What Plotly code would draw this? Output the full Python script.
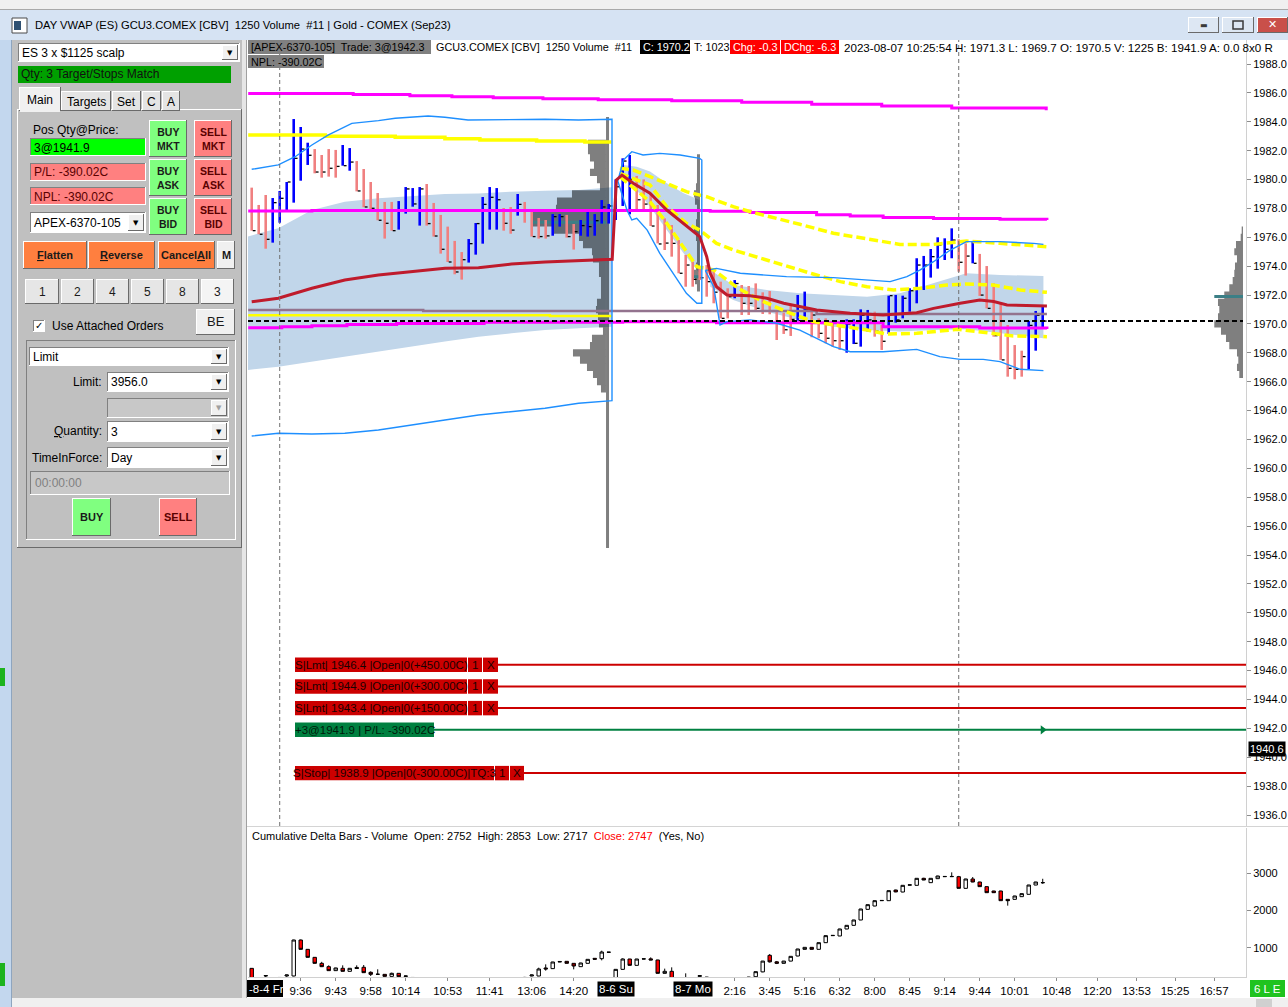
import plotly.graph_objects as go

W, H = 1288, 1007
FONT = "Liberation Sans, Arial, sans-serif"
SP2 = "\u00a0 "   # a double space that survives svg whitespace collapsing

# ---------------- price bars (1250 volume bars, x = bar number) ----------------
bar_high = [
    1979.44, 1978.24, 1978.93, 1978.72, 1979.21, 1979.83, 1984.19, 1983.64, 1982.55, 1982.11,
    1981.70, 1982.11, 1982.05, 1982.39, 1982.18, 1981.28, 1980.73, 1979.83, 1979.07, 1978.45,
    1978.45, 1978.51, 1979.48, 1979.41, 1979.48, 1979.69, 1978.38, 1977.55, 1976.74, 1975.75,
    1974.98, 1975.88, 1976.99, 1978.79, 1979.48, 1979.41, 1978.03, 1978.10, 1979.00, 1978.45,
    1977.82, 1977.34, 1977.20, 1977.61, 1977.61, 1977.55, 1976.92, 1977.20, 1977.82, 1977.61,
    1978.58, 1978.31, 1980.01, 1981.47, 1981.70, 1980.25, 1980.01, 1979.05, 1978.24, 1977.31,
    1976.85, 1975.81, 1974.78, 1974.31, 1973.97, 1974.08, 1973.74, 1972.93, 1972.47, 1973.04,
    1972.70, 1972.63, 1972.81, 1972.19, 1972.28, 1970.97, 1970.78, 1971.31, 1972.01, 1972.24,
    1971.01, 1970.39, 1970.39, 1970.16, 1969.93, 1970.32, 1970.32, 1971.01, 1970.97, 1970.85,
    1969.93, 1971.96, 1972.01, 1971.96, 1972.47, 1974.55, 1974.71, 1975.19, 1976.00, 1975.93,
    1976.62, 1975.86, 1975.58, 1975.75, 1974.85, 1974.01, 1972.81, 1971.43, 1969.93, 1968.54,
    1968.15, 1970.21, 1970.90, 1971.30,
]
bar_low = [
    1976.46, 1976.21, 1975.21, 1975.63, 1977.01, 1977.78, 1978.40, 1979.92, 1981.01, 1980.43,
    1980.13, 1980.20, 1980.13, 1980.96, 1980.61, 1979.18, 1978.08, 1977.89, 1977.18, 1975.91,
    1976.46, 1976.53, 1977.64, 1978.12, 1976.81, 1976.81, 1976.05, 1974.87, 1974.29, 1973.44,
    1973.07, 1974.25, 1974.80, 1975.56, 1976.53, 1976.53, 1976.46, 1976.25, 1977.50, 1977.01,
    1976.05, 1975.91, 1975.91, 1976.11, 1976.74, 1975.98, 1975.15, 1976.11, 1976.05, 1976.11,
    1976.95, 1976.95, 1977.20, 1978.17, 1977.59, 1977.82, 1977.82, 1976.78, 1975.58, 1975.12,
    1974.66, 1973.51, 1972.58, 1972.58, 1973.04, 1971.89, 1971.43, 1970.39, 1970.39, 1971.78,
    1970.62, 1970.62, 1970.97, 1970.69, 1970.67, 1968.89, 1969.31, 1969.17, 1970.23, 1970.51,
    1969.08, 1969.01, 1968.66, 1968.43, 1968.20, 1968.01, 1968.61, 1968.43, 1969.47, 1969.12,
    1968.20, 1969.31, 1970.09, 1970.39, 1970.85, 1971.43, 1972.35, 1973.21, 1973.83, 1974.43,
    1974.55, 1973.62, 1973.35, 1974.20, 1971.94, 1971.08, 1969.12, 1967.51, 1966.35, 1966.17,
    1966.35, 1966.86, 1968.15, 1969.70,
]
bar_close = [
    1976.46, 1976.21, 1975.86, 1978.40, 1978.70, 1979.83, 1981.47, 1982.11, 1981.68, 1980.52,
    1980.52, 1980.78, 1980.91, 1980.96, 1981.21, 1979.21, 1978.10, 1978.01, 1977.18, 1976.97,
    1976.46, 1977.80, 1979.35, 1978.31, 1979.35, 1976.95, 1976.09, 1975.17, 1974.29, 1973.60,
    1974.45, 1975.56, 1976.95, 1978.28, 1978.77, 1978.60, 1976.97, 1976.50, 1978.28, 1977.85,
    1976.05, 1976.05, 1976.10, 1977.43, 1977.43, 1976.05, 1976.39, 1976.81, 1976.74, 1977.15,
    1978.10, 1978.17, 1979.50, 1981.28, 1980.01, 1978.60, 1978.30, 1976.78, 1975.54, 1975.60,
    1975.58, 1973.51, 1974.08, 1973.09, 1973.20, 1972.93, 1972.20, 1970.39, 1971.89, 1972.80,
    1971.43, 1971.43, 1971.08, 1970.90, 1970.90, 1970.16, 1969.60, 1970.32, 1970.23, 1970.97,
    1970.62, 1969.35, 1969.01, 1968.84, 1968.84, 1970.00, 1968.66, 1970.60, 1970.28, 1969.50,
    1968.80, 1971.96, 1970.28, 1971.78, 1972.30, 1974.08, 1974.08, 1974.66, 1975.47, 1975.17,
    1975.81, 1974.27, 1974.70, 1974.20, 1972.00, 1971.08, 1969.19, 1967.51, 1966.93, 1966.86,
    1967.74, 1969.90, 1970.60, 1970.20,
]
# bar colour as drawn: u = blue, d = pink
bar_dir = ("ddd" "uuuuuu" "dddd" "uu" "dddddd" "uuuu" "dddddd" "uuuuu" "dd" "u" "dddd"
           "uu" "dd" "uuuuuuuu" "dddddddddddddd" "u" "dddddddd" "uu" "ddddd" "uuuu" "dd"
           "uuuuuuuuuu" "dd" "u" "ddddddd" "uuu")

# ---------------- indicator lines (x = bar number, y = price) ----------------
mag_hi_x = [-0.5, 14.5, 22.6, 28.6, 34.5, 41.6, 49.5, 60, 70, 80, 90, 100, 113.5]
mag_hi_y = [1985.95, 1985.88, 1985.81, 1985.74, 1985.67, 1985.60, 1985.53, 1985.45, 1985.35,
            1985.22, 1985.10, 1984.95, 1984.80]
mag_mid_x = [-0.5, 8.6, 65.5, 71.2, 80.7, 85.5, 90.2, 97.4, 106.9, 113.6]
mag_mid_y = [1977.82, 1977.86, 1977.80, 1977.72, 1977.56, 1977.48, 1977.38, 1977.31, 1977.25, 1977.20]
mag_lo_x = [-0.5, 4.3, 8.6, 13.6, 20.7, 33.2, 53.0, 66.4, 90.2, 104.0, 113.6]
mag_lo_y = [1969.74, 1969.81, 1969.88, 1969.97, 1970.04, 1970.11, 1970.16, 1970.09, 1969.80,
            1969.72, 1969.65]

yel_s1_hi_x = [-0.5, 10.5, 20.5, 27.6, 32.6, 40.7, 47.6, 51.4]
yel_s1_hi_y = [1983.08, 1983.00, 1982.92, 1982.83, 1982.74, 1982.67, 1982.60, 1982.60]
yel_s1_lo_x = [-0.5, 42.6, 51.4]
yel_s1_lo_y = [1970.60, 1970.55, 1970.55]

yel_a_x = [52.6, 54.5, 56.9, 59.3, 62.1, 65.0, 68.8, 71.7, 74.5, 78.3, 83.1, 87.9, 92.6, 97.4,
           102.1, 106.9, 113.6]
yel_a_y = [1980.78, 1980.66, 1980.20, 1979.74, 1979.16, 1978.81, 1978.12, 1977.71, 1977.38,
           1976.90, 1976.28, 1975.86, 1975.51, 1975.51, 1975.74, 1975.58, 1975.35]
yel_b_x = [52.6, 56.9, 59.3, 62.1, 64.0, 66.4, 68.8, 72.6, 76.4, 80.2, 84.1, 87.9, 91.7, 95.5,
           99.3, 102.1, 105.9, 109.8, 113.6]
yel_b_y = [1980.43, 1979.62, 1978.12, 1976.97, 1976.51, 1975.58, 1975.12, 1974.55, 1973.97,
           1973.46, 1972.93, 1972.58, 1972.35, 1972.47, 1972.70, 1972.77, 1972.70, 1972.35, 1972.19]
yel_c_x = [52.6, 56.9, 59.3, 61.7, 63.6, 66.0, 69.5, 72.6, 76.4, 80.2, 87.9, 90.6, 95.0, 100.9,
           108.8, 113.6]
yel_c_y = [1980.20, 1978.47, 1976.97, 1975.35, 1973.97, 1973.74, 1972.47, 1971.66, 1970.85,
           1970.16, 1969.58, 1969.31, 1969.35, 1969.63, 1969.17, 1969.12]

vwap_x = [0, 3.8, 8.6, 13.3, 18.1, 22.9, 27.6, 32.4, 37.1, 41.9, 46.7, 51.2, 51.5, 52.1, 52.9,
          54.5, 56.9, 59.3, 61.7, 64.0, 65.0, 65.5, 66.4, 67.9, 71.2, 73.6, 76.0, 80.7, 85.5,
          90.2, 95.0, 97.4, 101.2, 104.0, 106.0, 107.9, 113.6]
vwap_y = [1971.54, 1971.78, 1972.47, 1973.04, 1973.39, 1973.62, 1973.85, 1973.90, 1974.15,
          1974.29, 1974.38, 1974.48, 1974.48, 1979.97, 1980.31, 1979.74, 1979.05, 1977.89,
          1976.97, 1976.05, 1974.66, 1973.51, 1972.58, 1972.01, 1971.96, 1971.78, 1971.43,
          1970.97, 1970.74, 1970.62, 1970.78, 1971.08, 1971.43, 1971.66, 1971.55, 1971.31, 1971.24]

# std-dev bands, one pair per session
s1_up_x = [0, 3.8, 6.2, 8.6, 10.9, 14.3, 18.1, 20.5, 25.2, 27.6, 30.9, 37.1, 41.9, 46.7, 51.47]
s1_up_y = [1980.71, 1981.01, 1981.58, 1982.39, 1983.08, 1983.89, 1984.08, 1984.24, 1984.40,
           1984.31, 1984.12, 1984.17, 1984.17, 1984.12, 1984.17]
s1_lo_x = [0, 3.8, 8.6, 13.3, 18.1, 22.9, 27.6, 32.4, 37.1, 41.9, 46.7, 51.47]
s1_lo_y = [1962.24, 1962.43, 1962.38, 1962.43, 1962.66, 1963.01, 1963.35, 1963.70, 1963.93,
           1964.16, 1964.51, 1964.69]
s2_up_x = [52.3, 53.1, 54.3, 55.9, 58.3, 61.2, 64.0, 64.3]
s2_up_y = [1979.90, 1981.35, 1981.93, 1981.70, 1981.81, 1981.70, 1981.47, 1981.35]
s2_lo_x = [52.3, 53.6, 54.3, 55.0, 56.5, 58.3, 60.2, 62.1, 63.6, 64.3]
s2_lo_y = [1979.90, 1977.89, 1977.20, 1977.31, 1976.50, 1974.89, 1973.50, 1972.12, 1971.43, 1971.43]
s3_up_x = [64.8, 66.4, 69.8, 73.6, 76.4, 83.1, 87.9, 91.2, 93.6, 95.5, 97.4, 99.8, 102.1, 106.9,
           111.7, 113.1]
s3_up_y = [1973.70, 1973.85, 1973.51, 1973.35, 1973.28, 1973.21, 1973.04, 1972.93, 1973.28,
           1973.74, 1974.31, 1975.12, 1975.70, 1975.70, 1975.58, 1975.51]
s3_lo_x = [64.8, 66.0, 66.9, 67.9, 71.2, 75.0, 78.3, 80.7, 83.1, 85.5, 90.2, 95.0, 98.3, 101.2,
           104.5, 106.9, 109.8, 113.1]
s3_lo_y = [1973.70, 1972.58, 1969.93, 1970.16, 1970.28, 1970.05, 1969.58, 1969.01, 1968.43,
           1968.08, 1968.08, 1968.24, 1967.74, 1967.55, 1967.55, 1967.39, 1966.86, 1966.77]

# shaded inner band, one per session
f1_x = [-0.6, 3.8, 8.6, 13.3, 18.1, 22.9, 27.6, 32.4, 37.1, 41.9, 46.7, 51.47]
f1_up = [1976.05, 1976.62, 1977.89, 1978.47, 1978.70, 1978.86, 1979.00, 1979.04, 1979.16,
         1979.23, 1979.28, 1979.46]
f1_lo = [1966.81, 1967.04, 1967.39, 1967.74, 1968.08, 1968.43, 1968.78, 1969.12, 1969.35,
         1969.58, 1969.70, 1969.81]
f2_x = [52.3, 53.1, 55.0, 56.9, 59.3, 61.7, 64.0]
f2_up = [1980.00, 1981.01, 1980.89, 1980.55, 1979.74, 1979.05, 1978.58]
f2_lo = [1980.00, 1980.20, 1979.28, 1978.12, 1976.51, 1974.89, 1973.51]
f3_up_x = [65.5, 68.8, 73.6, 78.3, 83.1, 87.9, 92.6, 95.0, 97.4, 102.1, 106.9, 113.1]
f3_up = [1973.74, 1972.70, 1972.35, 1972.12, 1972.01, 1971.89, 1972.12, 1972.47, 1972.81,
         1973.51, 1973.39, 1973.32]
f3_lo_x = [65.5, 68.8, 73.6, 78.3, 83.1, 87.9, 92.6, 97.4, 102.1, 106.9, 113.1]
f3_lo = [1972.58, 1971.66, 1970.85, 1970.28, 1969.81, 1969.58, 1969.47, 1969.58, 1969.63,
         1969.35, 1969.01]

mauve_x = [-0.5, 24.5, 80.7, 113.6]
mauve_y = [1970.97, 1970.90, 1970.69, 1970.69]

# volume profiles: price levels (step 0.5) and volume
vp1_levels = [1982.5 - 0.5 * k for k in range(35)]
vp1_vol = [18, 18, 16, 12, 16, 9, 6, 34, 49, 50, 74, 73, 53, 27, 23, 14, 13, 7, 7, 5, 5, 5, 9,
           10, 8, 7, 3, 14, 16, 33, 26, 19, 13, 9, 5]
vp1_poc = 1977.04
vp2_levels = [1981.5 - 0.5 * k for k in range(19)]
vp2_vol = [3, 3, 3, 3, 4, 6, 5, 3, 3, 4, 6, 4, 3, 3, 3, 4, 6, 5, 3]
vp2_poc = 1973.27
vp3_levels = [1976.5 - 0.5 * k for k in range(21)]
vp3_vol = [1.3, 2.3, 7, 8.7, 6, 8, 8.7, 10.3, 13.7, 18.7, 25, 23.7, 25, 28.7, 22, 17, 13.7, 6,
           4.7, 6, 3.7]
vp3_poc = 1971.9
session_line_top, session_line_bottom = 1984.33, 1954.49

last_price = 1970.2
cursor_price = 1940.6
order_prices = [1946.4, 1944.9, 1943.4, 1938.9]
order_types = ["Lmt", "Lmt", "Lmt", "Stop"]
order_pnl = [450.00, 300.00, 150.00, -300.00]
position_price = 1941.9
position_qty = 3
position_pl = -390.02

# ---------------- cumulative delta bars ----------------
cd_open = [445, 130, 240, 180, 170, 240, 240, 1207, 956, 741,
           580, 490, 383, 446, 365, 469, 474, 338, 284, 284,
           230, 311, 230, 200, 160, 130, 90, 60, 40, 70,
           50, 100, 140, 120, 170, 190, 150, 110, 160, 190,
           240, 239, 455, 437, 630, 634, 580, 490, 580, 714,
           705, 876, 150, 418, 696, 526, 696, 700, 670, 311,
           365, 150, 150, 160, 230, 210, 160, 110, 60, 80,
           130, 160, 220, 350, 795, 620, 580, 640, 777, 956,
           1010, 956, 1135, 1324, 1315, 1503, 1601, 1745, 2031, 2121,
           2264, 2264, 2550, 2497, 2680, 2677, 2865, 2748, 2856, 2909,
           2909, 2909, 2596, 2847, 2766, 2641, 2524, 2524, 2300, 2300,
           2372, 2435, 2685, 2752]
cd_high = [450, 160, 258, 200, 210, 275, 1215, 1220, 962, 748,
           620, 526, 462, 526, 452, 526, 535, 365, 419, 290,
           330, 315, 250, 210, 190, 150, 120, 90, 80, 100,
           110, 150, 170, 180, 200, 210, 160, 170, 200, 215,
           275, 463, 553, 620, 635, 640, 585, 595, 690, 720,
           920, 882, 420, 714, 700, 700, 705, 740, 675, 437,
           472, 170, 311, 180, 262, 215, 180, 130, 90, 140,
           170, 215, 360, 645, 831, 643, 645, 775, 970, 1015,
           1015, 1140, 1330, 1335, 1510, 1605, 1750, 2045, 2162, 2270,
           2275, 2540, 2560, 2685, 2695, 2870, 2880, 2870, 2935, 2925,
           3026, 2930, 2852, 2900, 2772, 2647, 2530, 2530, 2305, 2395,
           2458, 2690, 2771, 2853]
cd_low = [120, 100, 190, 150, 150, 215, 230, 950, 735, 575,
          480, 378, 375, 360, 360, 430, 325, 239, 280, 225,
          225, 200, 200, 150, 120, 80, 40, 20, 10, 30,
          40, 90, 100, 110, 150, 140, 100, 100, 150, 170,
          230, 235, 383, 430, 612, 575, 418, 485, 575, 685,
          660, 874, 140, 410, 520, 520, 690, 665, 305, 305,
          120, 100, 120, 120, 220, 150, 100, 40, 20, 70,
          110, 150, 200, 340, 600, 560, 575, 635, 770, 950,
          950, 950, 1130, 1318, 1310, 1498, 1595, 1740, 2025, 2115,
          2258, 2258, 2490, 2490, 2675, 2670, 2815, 2740, 2850, 2900,
          2900, 2590, 2590, 2760, 2635, 2474, 2474, 2258, 2130, 2295,
          2367, 2430, 2680, 2717]
cd_close = [130, 140, 250, 170, 200, 266, 1207, 956, 741, 580,
            490, 383, 455, 365, 446, 440, 329, 284, 286, 230,
            311, 221, 239, 160, 130, 90, 60, 40, 70, 50,
            100, 140, 120, 170, 190, 150, 110, 160, 190, 200,
            266, 428, 430, 616, 620, 580, 508, 589, 687, 690,
            884, 880, 418, 696, 526, 696, 700, 670, 311, 365,
            150, 120, 160, 140, 248, 160, 110, 60, 80, 130,
            160, 210, 356, 640, 620, 580, 640, 768, 965, 1010,
            956, 1135, 1324, 1330, 1503, 1601, 1745, 2040, 2157, 2264,
            2270, 2533, 2500, 2677, 2690, 2865, 2820, 2865, 2927, 2915,
            2915, 2596, 2847, 2766, 2641, 2479, 2479, 2264, 2264, 2390,
            2453, 2685, 2766, 2747]

# ---------------- time axis ----------------
time_ticks = [7, 12, 17, 22, 28, 34, 40, 46, 69, 74, 79, 84, 89, 94, 99, 104, 109, 115,
              120.8, 126.4, 131.9, 137.5]
time_labels = ["9:36", "9:43", "9:58", "10:14", "10:53", "11:41", "13:06", "14:20", "2:16",
               "3:45", "5:16", "6:32", "8:00", "8:45", "9:14", "9:44", "10:01", "10:48",
               "12:20", "13:53", "15:25", "16:57"]
date_ticks = [52, 63]
date_labels = ["8-6 Su", "8-7 Mo"]
day_marks = [4, 101]

# ---------------- pixel layout of the window ----------------
X0, X1 = 248, 1246          # chart plot area
MAIN_TOP, MAIN_BOT = 40, 826
LOW_TOP, LOW_BOT = 828, 977
PRICE_RANGE = [1935.238, 1989.662]
DELTA_RANGE = [212.4, 4217.7]
BAR_RANGE = [-0.53, 142.04]


def px(x):
    return x / W


def py(y):
    return 1 - y / H


shapes, annotations = [], []


def box(x0, y0, x1, y1, fill, edge=None, width=1):
    shapes.append(dict(type="rect", xref="paper", yref="paper", layer="above",
                       x0=px(x0), x1=px(x1), y0=py(y1), y1=py(y0), fillcolor=fill,
                       line=dict(color=edge if edge else fill, width=width if edge else 0)))


def bevel(x0, y0, x1, y1, fill, raised=True):
    lt, rb = ("#ffffff", "#6a6a6a") if raised else ("#808080", "#ffffff")
    box(x0, y0, x1, y1, rb)
    box(x0, y0, x1 - 1, y1 - 1, lt)
    box(x0 + 1, y0 + 1, x1 - 1, y1 - 1, fill)


def label(x, y, s, size=11, color="black", anchor="left", family=FONT):
    annotations.append(dict(xref="paper", yref="paper", x=px(x), y=py(y),
                            text=s.replace("  ", SP2), showarrow=False, xanchor=anchor,
                            yanchor="middle", font=dict(size=size, color=color, family=family)))


def combo(x0, y0, x1, y1, s, fill="white", arrow="#000000"):
    bevel(x0, y0, x1, y1, fill, raised=False)
    bevel(x1 - 18, y0 + 2, x1 - 2, y1 - 2, "#f0f0f0")
    label(x1 - 10, (y0 + y1) / 2, "▼", size=7, color=arrow, anchor="center",
          family="DejaVu Sans")
    if s:
        label(x0 + 2, (y0 + y1) / 2 + 0.5, s, size=12)


def button(x0, y0, x1, y1, fill, s, color="#1a1a1a", size=11, bold=True):
    bevel(x0, y0, x1, y1, fill)
    txt = "<b>%s</b>" % s if bold else s
    label((x0 + x1) / 2, (y0 + y1) / 2, txt, size=size, color=color, anchor="center")


fig = go.Figure()

# ---------------- main price panel ----------------
def poly(xu, yu, xl, yl, color):
    fig.add_trace(go.Scatter(x=list(xu) + list(xl)[::-1], y=list(yu) + list(yl)[::-1],
                             fill="toself", fillcolor=color, mode="lines",
                             line=dict(width=0), hoverinfo="skip"))


band_fill = "#c1d6ea"
poly(f1_x, f1_up, f1_x, f1_lo, band_fill)
poly(f2_x, f2_up, f2_x, f2_lo, band_fill)
poly(f3_up_x, f3_up, f3_lo_x, f3_lo, band_fill)


def profile(levels, vols, right, poc):
    half = 0.25
    xs, ys = [right], [levels[0] + half]
    for lv, v in zip(levels, vols):
        w = v / 7.0
        xs += [right - w, right - w]
        ys += [lv + half, lv - half]
    xs.append(right)
    ys.append(levels[-1] - half)
    fig.add_trace(go.Scatter(x=xs, y=ys, fill="toself", fillcolor="rgba(0,0,0,0.5)",
                             mode="lines", line=dict(width=0), hoverinfo="skip"))
    fig.add_trace(go.Scatter(x=[right - max(vols) / 7.0, right], y=[poc, poc], mode="lines",
                             line=dict(color="#3b7f86", width=3), hoverinfo="skip"))


profile(vp1_levels, vp1_vol, 50.61, vp1_poc)
profile(vp2_levels, vp2_vol, 64.04, vp2_poc)
profile(vp3_levels, vp3_vol, 141.61, vp3_poc)
fig.add_trace(go.Scatter(x=[50.83, 50.83], y=[session_line_top, session_line_bottom],
                         mode="lines", line=dict(color="rgba(0,0,0,0.5)", width=3)))

# OHLC-style bars (high-low stroke + close tick)
for d, col in (("u", "#0000ff"), ("d", "#f08080")):
    xs, ys = [], []
    for i, c in enumerate(bar_dir):
        if c == d:
            xs += [i, i, None]
            ys += [bar_low[i], bar_high[i], None]
    fig.add_trace(go.Scatter(x=xs, y=ys, mode="lines", line=dict(color=col, width=2.6),
                             hoverinfo="skip"))
tx, ty = [], []
for i, c in enumerate(bar_close):
    tx += [i + 0.15, i + 0.55, None]
    ty += [c, c, None]
fig.add_trace(go.Scatter(x=tx, y=ty, mode="lines", line=dict(color="black", width=1.3),
                         hoverinfo="skip"))

fig.add_trace(go.Scatter(x=mauve_x, y=mauve_y, mode="lines", line_shape="hv",
                         line=dict(color="#93738e", width=2.5)))
for xs, ys in ((mag_hi_x, mag_hi_y), (mag_mid_x, mag_mid_y), (mag_lo_x, mag_lo_y)):
    fig.add_trace(go.Scatter(x=xs, y=ys, mode="lines", line_shape="hv",
                             line=dict(color="#ff00ff", width=3)))
fig.add_trace(go.Scatter(x=yel_s1_hi_x, y=yel_s1_hi_y, mode="lines", line_shape="hv",
                         line=dict(color="#ffff00", width=3.5)))
fig.add_trace(go.Scatter(x=yel_s1_lo_x, y=yel_s1_lo_y, mode="lines", line_shape="hv",
                         line=dict(color="#ffff00", width=2.5)))
for xs, ys in ((yel_a_x, yel_a_y), (yel_b_x, yel_b_y), (yel_c_x, yel_c_y)):
    fig.add_trace(go.Scatter(x=xs, y=ys, mode="lines",
                             line=dict(color="#ffff00", width=3.5, dash="9px,4px")))

# bands: session 1 and 2 close into a loop at their end, session 3 stays open
for ux, uy, lx, ly, closed in ((s1_up_x, s1_up_y, s1_lo_x, s1_lo_y, True),
                               (s2_up_x, s2_up_y, s2_lo_x, s2_lo_y, True),
                               (s3_up_x, s3_up_y, s3_lo_x, s3_lo_y, False)):
    if closed:
        fig.add_trace(go.Scatter(x=ux + lx[::-1], y=uy + ly[::-1], mode="lines",
                                 line=dict(color="#1e8fff", width=1.4)))
    else:
        fig.add_trace(go.Scatter(x=ux, y=uy, mode="lines", line=dict(color="#1e8fff", width=1.4)))
        fig.add_trace(go.Scatter(x=lx, y=ly, mode="lines", line=dict(color="#1e8fff", width=1.4)))

fig.add_trace(go.Scatter(x=vwap_x, y=vwap_y, mode="lines",
                         line=dict(color="#bf1b2c", width=3)))
fig.add_trace(go.Scatter(x=[len(bar_close) - 1], y=[position_price], mode="markers",
                         marker=dict(symbol="triangle-right", size=8, color="#008040")))

# ---------------- cumulative delta panel ----------------
fig.add_trace(go.Candlestick(
    x=list(range(len(cd_open))), open=cd_open, high=cd_high, low=cd_low, close=cd_close,
    xaxis="x2", yaxis="y2", whiskerwidth=0,
    increasing=dict(line=dict(color="black", width=1), fillcolor="white"),
    decreasing=dict(line=dict(color="black", width=1), fillcolor="#ff0000")))

# ---------------- chart decorations ----------------
for b in day_marks:
    shapes.append(dict(type="line", xref="x", yref="paper", x0=b, x1=b, y0=py(MAIN_BOT),
                       y1=py(MAIN_TOP), line=dict(color="#707070", width=1, dash="4px,3px")))
shapes.append(dict(type="line", xref="paper", yref="y", x0=px(X0), x1=px(1243), y0=last_price,
                   y1=last_price, layer="above",
                   line=dict(color="black", width=2, dash="5px,3px")))

# order lines with their tags
row_h = 0.5
for p, t, pnl in zip(order_prices, order_types, order_pnl):
    main_txt = "S|%s| %.1f |Open|0(%+.2fC)" % (t, p, pnl)
    if t == "Stop":
        main_txt += "|TQ:%d" % position_qty
        segs = [(295, 494), (495, 509), (510, 524)]
    else:
        segs = [(295, 467), (468, 482), (483, 498)]
    shapes.append(dict(type="line", xref="paper", yref="y", x0=px(segs[-1][1]), x1=px(X1),
                       y0=p, y1=p, layer="above", line=dict(color="#cc0000", width=2)))
    for (a, b), s in zip(segs, [main_txt, "1", "X"]):
        shapes.append(dict(type="rect", xref="paper", yref="y", x0=px(a), x1=px(b),
                           y0=p - row_h, y1=p + row_h, fillcolor="#cc0000", layer="above",
                           line=dict(width=0)))
        annotations.append(dict(xref="paper", yref="y", x=px((a + b) / 2), y=p, text=s,
                                showarrow=False, xanchor="center", yanchor="middle",
                                font=dict(size=11.5, color="#1a0000", family=FONT)))
pos_txt = "+%d@%.1f | P/L: %.2fC" % (position_qty, position_price, position_pl)
shapes.append(dict(type="line", xref="paper", yref="y", x0=px(434), x1=px(X1),
                   y0=position_price, y1=position_price, layer="above",
                   line=dict(color="#008040", width=2)))
shapes.append(dict(type="rect", xref="paper", yref="y", x0=px(295), x1=px(434),
                   y0=position_price - row_h, y1=position_price + row_h, fillcolor="#008040",
                   layer="above", line=dict(width=0)))
annotations.append(dict(xref="paper", yref="y", x=px(364.5), y=position_price, text=pos_txt,
                        showarrow=False, xanchor="center", yanchor="middle",
                        font=dict(size=11.5, color="#001a0a", family=FONT)))
annotations.append(dict(xref="paper", yref="y", x=px(1248), y=cursor_price,
                        text="%.1f" % cursor_price, showarrow=False, xanchor="left",
                        yanchor="middle", bgcolor="black", borderpad=1,
                        font=dict(size=11, color="white", family=FONT)))

# chart header lines
hdr = [
    (248, 431, "[APEX-6370-105]  Trade: 3@1942.3", "#808080", "black", 10.8),
    (433, None, "GCU3.COMEX [CBV]  1250 Volume  #11", None, "black", 10.8),
    (640, 690, "C: %.1f" % bar_close[-1], "black", "white", 10.8),
    (692, None, "T: 1023", None, "black", 10.8),
    (730, 780, "Chg: -0.3", "#ff0000", "white", 10.8),
    (781, 839, "DChg: -6.3", "#ff0000", "white", 10.8),
    (841, None, "2023-08-07 10:25:54 H: %.1f L: %.1f O: 1970.5 V: 1225 B: 1941.9 A: 0.0 8x0 R"
     % (bar_high[-1], bar_low[-1]), None, "black", 11.6),
]
for a, b, s, bg, fg, fs in hdr:
    if bg:
        box(a, 40, b, 54, bg)
    label(a + 0.5, 47.5, s, size=fs, color=fg)
box(248, 55, 324, 68, "#808080")
label(248.5, 61.5, "NPL: %.2fC" % position_pl, size=10.8)

# delta panel caption
label(250, 836, "Cumulative Delta Bars - Volume  Open: %d  High: %d  Low: %d  "
      "<span style='color:#ff0000'>Close: %d</span>  (Yes, No)"
      % (cd_open[-1], cd_high[-1], cd_low[-1], cd_close[-1]), size=11)

# date labels on time axis
box(246, 980, 283, 997, "black")
label(247, 988.5, "-8-4 Fr", size=11.5, color="white")
for b, s in zip(date_ticks, date_labels):
    annotations.append(dict(xref="x2", yref="paper", x=b, y=py(988.5), text=s, showarrow=False,
                            xanchor="center", yanchor="middle", bgcolor="black", borderpad=1,
                            font=dict(size=11.5, color="white", family=FONT)))
box(1250, 980, 1285, 997, "#1fc31f")
label(1267.5, 988.5, "6 L E", size=11.5, color="white", anchor="center")

# frames and separators of the chart
box(242, 40, 246, 998, "#e6e6e6")
box(246, 40, 247, 998, "#a0a0a0")
box(247, LOW_TOP - 2, 1288, LOW_TOP - 1, "#d4d4d4")
box(12, 998, 1288, 1007, "#f0f0f0")
box(1256, 999, 1272, 1007, "#d0d0d0")

# ---------------- window chrome ----------------
box(0, 0, W, 9, "#f0f0f0")
box(0, 9, W, 10, "#a9a9a9")
box(0, 10, W, 40, "#d6e3f3")
box(0, 40, 12, H, "#c3d7ee")
box(11, 40, 12, H, "#8ea5bf")
box(0, 668, 5, 686, "#1db31d")
box(0, 963, 5, 986, "#1db31d")
box(12, 18, 27, 33, "#ffffff", edge="#4a4a4a")
box(14, 21, 21, 30, "#2f5173")
label(33, 25, "DAY VWAP (ES) GCU3.COMEX [CBV]  1250 Volume  #11 | Gold - COMEX (Sep23)", size=11.2)
bevel(1188, 17, 1219, 33, "#dde7f3")
label(1203.5, 26, "▬", size=8, color="#3a3a3a", anchor="center", family="DejaVu Sans")
bevel(1222, 17, 1254, 33, "#dde7f3")
box(1233, 21, 1243, 29, "#dde7f3", edge="#3a3a3a", width=1.5)
bevel(1257, 17, 1288, 33, "#c9504a")
label(1272.5, 25, "<b>✕</b>", size=11, color="white", anchor="center", family="DejaVu Sans")

# ---------------- order entry panel ----------------
box(12, 40, 242, 998, "#c0c0c0")
combo(18, 43, 240, 62, "ES 3 x $1125 scalp")
box(18, 66, 231, 83, "#00a000")
label(19, 74.5, "Qty: 3 Target/Stops Match", size=12, color="#101010")
bevel(17, 109, 242, 548, "#c0c0c0")
tabs = [(19, 61, "Main"), (61, 111, "Targets"), (112, 141, "Set"), (142, 161, "C"), (162, 180, "A")]
for k, (a, b, s) in enumerate(tabs):
    top = 87 if k == 0 else 91
    bevel(a, top, b, 111, "#f0f0f0" if k == 0 else "#e4e4e4")
    label((a + b) / 2, (top + 111) / 2 + 1, s, size=12, anchor="center")
box(20, 108, 60, 112, "#f0f0f0")

label(31, 130, "Pos Qty@Price:", size=12)
bevel(30, 138, 146, 156, "#00ff00", raised=False)
label(32, 147.5, "3@1941.9", size=12)
bevel(30, 163, 146, 181, "#ff8080", raised=False)
label(32, 172.5, "P/L: %.2fC" % position_pl, size=12, color="#5a0000")
bevel(30, 187, 146, 205, "#ff8080", raised=False)
label(32, 196.5, "NPL: %.2fC" % position_pl, size=12, color="#5a0000")
combo(30, 212, 146, 233, "APEX-6370-105")

for k, (a, b) in enumerate([(120, 157), (159, 196), (198, 235)]):
    sub = ["MKT", "ASK", "BID"][k]
    button(149, a, 187, b, "#80ff80", "BUY<br>" + sub, size=10.5)
    button(194, a, 232, b, "#ff8080", "SELL<br>" + sub, color="#5a0000", size=10.5)

button(23, 241, 87, 269, "#ff7f3f", "<u>F</u>latten")
button(88, 241, 155, 269, "#ff7f3f", "<u>R</u>everse")
button(158, 241, 215, 269, "#ff7f3f", "Cancel<u>A</u>ll")
button(217, 241, 235, 269, "#f0f0f0", "M")
for (a, b), s in zip([(25, 59), (61, 94), (96, 129), (131, 164), (166, 199), (201, 234)],
                     ["1", "2", "4", "5", "8", "3"]):
    button(a, 279, b, 304, "#f4f4f4" if s == "3" else "#e6e6e6", s, size=12, bold=False)

bevel(33, 320, 45, 332, "white", raised=False)
label(39, 326, "<b>✓</b>", size=10, anchor="center", family="DejaVu Sans")
label(50, 326, "Use Attached Orders", size=12)
button(196, 309, 235, 335, "#f0f0f0", "BE", size=13, bold=False)

bevel(26, 340, 236, 540, "#c0c0c0", raised=False)
combo(29, 347, 229, 366, "Limit")
label(104, 382, "Limit:", size=12, anchor="right")
combo(107, 372, 229, 392, "3956.0")
combo(107, 398, 229, 418, "", fill="#c8c8c8", arrow="#a0a0a0")
label(104, 431, "<u>Q</u>uantity:", size=12, anchor="right")
combo(107, 421, 229, 442, "3")
label(104, 458, "TimeInForce:", size=12, anchor="right")
combo(107, 447, 229, 468, "Day")
bevel(30, 471, 230, 495, "#c8c8c8", raised=False)
label(33, 483, "00:00:00", size=12, color="#808080")
button(72, 498, 111, 536, "#80ff80", "BUY", size=11)
button(159, 498, 197, 536, "#ff8080", "SELL", color="#5a0000", size=11)

# ---------------- layout ----------------
axis_font = dict(family=FONT, size=11, color="black")
fig.update_layout(
    width=W, height=H, margin=dict(l=0, r=0, t=0, b=0),
    paper_bgcolor="white", plot_bgcolor="white", showlegend=False,
    shapes=shapes, annotations=annotations, hovermode=False,
    xaxis=dict(domain=[px(X0), px(X1)], range=BAR_RANGE, showticklabels=False, ticks="",
               showgrid=False, zeroline=False, showline=False, anchor="y"),
    yaxis=dict(domain=[py(MAIN_BOT), py(MAIN_TOP)], range=PRICE_RANGE, side="right",
               tickmode="linear", tick0=1936, dtick=2, tickformat=".1f", ticks="outside",
               ticklen=4, tickcolor="#8c8c8c", showline=True, linecolor="#d0d0d0",
               showgrid=False, zeroline=False, tickfont=axis_font, anchor="x"),
    xaxis2=dict(domain=[px(X0), px(X1)], matches="x", anchor="y2", tickmode="array",
                tickvals=time_ticks, ticktext=time_labels, ticks="outside", ticklen=3,
                tickcolor="#8c8c8c", showline=True, linecolor="#d0d0d0", showgrid=False,
                zeroline=False, tickfont=dict(family=FONT, size=11.5, color="black"),
                rangeslider=dict(visible=False)),
    yaxis2=dict(domain=[py(LOW_BOT), py(LOW_TOP)], range=DELTA_RANGE, side="right",
                tickmode="array", tickvals=[1000, 2000, 3000], ticks="outside", ticklen=4,
                tickcolor="#8c8c8c", showline=True, linecolor="#d0d0d0", showgrid=False,
                zeroline=False, tickfont=axis_font, anchor="x2"),
)

fig.write_html("out.html", config={"displayModeBar": False},
               post_script="document.body.style.margin='0';")
